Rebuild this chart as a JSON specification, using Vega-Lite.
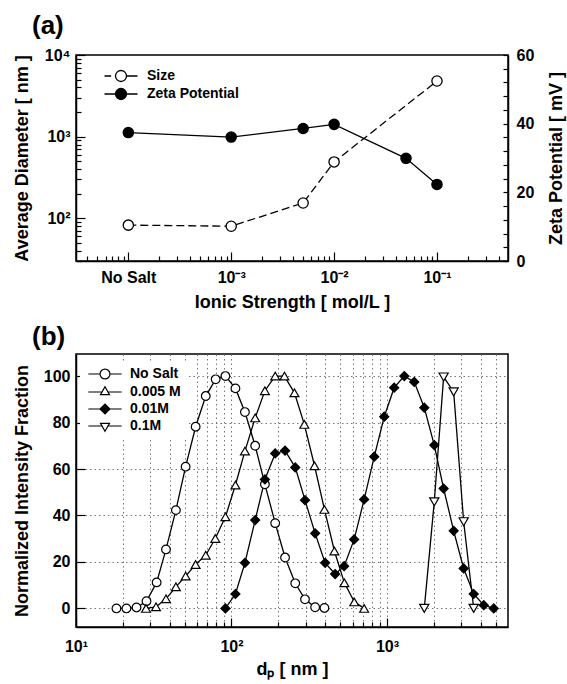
{
  "$schema": "https://vega.github.io/schema/vega-lite/v6.json",
  "padding": {"left": 12, "top": 12, "right": 0, "bottom": 2},
  "spacing": 11,
  "config": {
    "font": "Liberation Sans",
    "view": {"stroke": "black", "strokeWidth": 1.5},
    "axis": {
      "labelFont": "Liberation Sans", "labelFontWeight": "bold", "labelFontSize": 16, "labelColor": "black",
      "titleFont": "Liberation Sans", "titleFontWeight": "bold", "titleFontSize": 18, "titleColor": "black",
      "domainColor": "black", "domainWidth": 1.5, "tickColor": "black", "tickWidth": 1.2, "tickSize": -5,
      "labelPadding": 11, "labelOverlap": false, "labelFlush": false, "grid": false
    },
    "legend": {"labelFont": "Liberation Sans", "labelFontWeight": "bold", "labelFontSize": 14, "labelColor": "black"},
    "title": {"font": "Liberation Sans", "fontWeight": "bold", "fontSize": 26, "color": "black", "anchor": "start", "frame": "group"}
  },
  "datasets": {
    "panelA": [
      {"ionic": 0.0001, "size": 82.5, "zeta": 37.4},
      {"ionic": 0.001, "size": 80, "zeta": 36.1},
      {"ionic": 0.005, "size": 154, "zeta": 38.6},
      {"ionic": 0.01, "size": 490, "zeta": 39.8},
      {"ionic": 0.05, "size": null, "zeta": 29.9},
      {"ionic": 0.1, "size": 4800, "zeta": 22.3}
    ],
    "panelB": [
      {"series": "No Salt", "d": 18.2, "f": 0},
      {"series": "No Salt", "d": 21.1, "f": 0},
      {"series": "No Salt", "d": 24.5, "f": 0.4},
      {"series": "No Salt", "d": 28.4, "f": 3.1},
      {"series": "No Salt", "d": 33.0, "f": 11.2},
      {"series": "No Salt", "d": 37.9, "f": 25.4},
      {"series": "No Salt", "d": 43.9, "f": 42.3},
      {"series": "No Salt", "d": 50.7, "f": 61.0},
      {"series": "No Salt", "d": 58.8, "f": 78.2},
      {"series": "No Salt", "d": 68.3, "f": 91.4},
      {"series": "No Salt", "d": 79.1, "f": 98.6},
      {"series": "No Salt", "d": 91.4, "f": 100},
      {"series": "No Salt", "d": 106, "f": 94.7},
      {"series": "No Salt", "d": 122, "f": 84.5},
      {"series": "No Salt", "d": 142, "f": 70.0},
      {"series": "No Salt", "d": 164, "f": 53.4},
      {"series": "No Salt", "d": 191, "f": 36.7},
      {"series": "No Salt", "d": 221, "f": 21.9},
      {"series": "No Salt", "d": 257, "f": 10.8},
      {"series": "No Salt", "d": 297, "f": 3.9},
      {"series": "No Salt", "d": 345, "f": 0.5},
      {"series": "No Salt", "d": 396, "f": 0.2},
      {"series": "0.005 M", "d": 28.2, "f": 0},
      {"series": "0.005 M", "d": 32.7, "f": 0.7},
      {"series": "0.005 M", "d": 37.9, "f": 4.1},
      {"series": "0.005 M", "d": 43.9, "f": 9.3},
      {"series": "0.005 M", "d": 50.7, "f": 13.9},
      {"series": "0.005 M", "d": 58.8, "f": 18.9},
      {"series": "0.005 M", "d": 68.3, "f": 22.9},
      {"series": "0.005 M", "d": 78.7, "f": 30.1},
      {"series": "0.005 M", "d": 91.4, "f": 39.4},
      {"series": "0.005 M", "d": 106, "f": 53.1},
      {"series": "0.005 M", "d": 122, "f": 67.7},
      {"series": "0.005 M", "d": 142, "f": 82.0},
      {"series": "0.005 M", "d": 164, "f": 93.7},
      {"series": "0.005 M", "d": 191, "f": 100},
      {"series": "0.005 M", "d": 219, "f": 100},
      {"series": "0.005 M", "d": 254, "f": 92.8},
      {"series": "0.005 M", "d": 294, "f": 79.2},
      {"series": "0.005 M", "d": 342, "f": 61.4},
      {"series": "0.005 M", "d": 396, "f": 42.6},
      {"series": "0.005 M", "d": 459, "f": 24.7},
      {"series": "0.005 M", "d": 532, "f": 11.0},
      {"series": "0.005 M", "d": 616, "f": 2.8},
      {"series": "0.005 M", "d": 713, "f": 0},
      {"series": "0.01M", "d": 91.4, "f": 0},
      {"series": "0.01M", "d": 106, "f": 6.2},
      {"series": "0.01M", "d": 122, "f": 19.6},
      {"series": "0.01M", "d": 142, "f": 38.0},
      {"series": "0.01M", "d": 164, "f": 55.5},
      {"series": "0.01M", "d": 191, "f": 66.7},
      {"series": "0.01M", "d": 221, "f": 67.9},
      {"series": "0.01M", "d": 257, "f": 60.7},
      {"series": "0.01M", "d": 297, "f": 46.6},
      {"series": "0.01M", "d": 345, "f": 32.3},
      {"series": "0.01M", "d": 400, "f": 19.6},
      {"series": "0.01M", "d": 464, "f": 14.8},
      {"series": "0.01M", "d": 530, "f": 18.2},
      {"series": "0.01M", "d": 615, "f": 29.7},
      {"series": "0.01M", "d": 713, "f": 46.9},
      {"series": "0.01M", "d": 828, "f": 65.3},
      {"series": "0.01M", "d": 960, "f": 82.5},
      {"series": "0.01M", "d": 1112, "f": 95.0},
      {"series": "0.01M", "d": 1291, "f": 100},
      {"series": "0.01M", "d": 1497, "f": 97.5},
      {"series": "0.01M", "d": 1737, "f": 86.4},
      {"series": "0.01M", "d": 2014, "f": 70.3},
      {"series": "0.01M", "d": 2313, "f": 51.6},
      {"series": "0.01M", "d": 2684, "f": 33.4},
      {"series": "0.01M", "d": 3112, "f": 17.2},
      {"series": "0.01M", "d": 3611, "f": 6.2},
      {"series": "0.01M", "d": 4190, "f": 1.4},
      {"series": "0.01M", "d": 4858, "f": 0},
      {"series": "0.1M", "d": 1737, "f": 0},
      {"series": "0.1M", "d": 2014, "f": 45.9},
      {"series": "0.1M", "d": 2313, "f": 99.6},
      {"series": "0.1M", "d": 2684, "f": 93.2},
      {"series": "0.1M", "d": 3112, "f": 37.3},
      {"series": "0.1M", "d": 3611, "f": 0}
    ]
  },
  "vconcat": [
    {
      "width": 432,
      "height": 206,
      "title": {"text": "(a)", "dx": -44, "offset": 8},
      "data": {"name": "panelA"},
      "layer": [
        {
          "transform": [{"filter": "datum.size != null"}],
          "encoding": {
            "x": {"field": "ionic", "type": "quantitative",
              "scale": {"type": "log", "domain": [0.000031, 0.49], "nice": false},
              "axis": {"orient": "bottom", "title": "Ionic Strength [ mol/L ]",
                "values": [0.0001, 0.001, 0.01, 0.1], "tickSize": -9,
                "labelExpr": "datum.value == 0.0001 ? 'No Salt' : datum.value == 0.001 ? '10⁻³' : datum.value == 0.01 ? '10⁻²' : '10⁻¹'",
                "labelPadding": 17, "titlePadding": 8}}
          },
          "layer": [
            {
              "mark": {"type": "line", "stroke": "black", "strokeWidth": 1.3, "strokeDash": [8, 4]},
              "encoding": {
                "y": {"field": "size", "type": "quantitative",
                  "scale": {"type": "log", "domain": [30, 10000], "nice": false},
                  "axis": {"orient": "left", "title": "Average Diameter [ nm ]",
                    "values": [100, 1000, 10000], "tickSize": -9,
                    "labelExpr": "datum.value == 100 ? '10²' : datum.value == 1000 ? '10³' : '10⁴'",
                    "labelPadding": 15, "titlePadding": 13}}
              }
            },
            {
              "mark": {"type": "point", "shape": "circle", "filled": true, "fill": "white", "stroke": "black", "strokeWidth": 1.3, "size": 105, "opacity": 1},
              "encoding": {
                "y": {"field": "size", "type": "quantitative",
                  "scale": {"type": "log", "domain": [30, 10000], "nice": false},
                  "axis": {"orient": "left", "title": null, "labels": false, "domain": false, "tickSize": -5,
                    "values": [30, 40, 50, 60, 70, 80, 90, 200, 300, 400, 500, 600, 700, 800, 900, 2000, 3000, 4000, 5000, 6000, 7000, 8000, 9000]}}
              }
            }
          ],
          "resolve": {"axis": {"y": "independent"}}
        },
        {
          "encoding": {
            "x": {"field": "ionic", "type": "quantitative",
              "scale": {"type": "log", "domain": [0.000031, 0.49], "nice": false},
              "axis": {"orient": "bottom", "title": null, "labels": false, "domain": false, "tickSize": -5,
                "values": [0.00004, 0.00005, 0.00006, 0.00007, 0.00008, 0.00009, 0.0002, 0.0003, 0.0004, 0.0005, 0.0006, 0.0007, 0.0008, 0.0009, 0.002, 0.003, 0.004, 0.005, 0.006, 0.007, 0.008, 0.009, 0.02, 0.03, 0.04, 0.05, 0.06, 0.07, 0.08, 0.09, 0.2, 0.3, 0.4]}},
            "y": {"field": "zeta", "type": "quantitative",
              "scale": {"domain": [0, 60], "nice": false, "zero": false},
              "axis": {"orient": "right", "title": "Zeta Potential [ mV ]", "titleAngle": 270, "titleBaseline": "top",
                "values": [0, 4, 8, 12, 16, 20, 24, 28, 32, 36, 40, 44, 48, 52, 56, 60],
                "labelExpr": "datum.value % 20 == 0 ? datum.label : ''",
                "labelPadding": 13, "titlePadding": 14}}
          },
          "layer": [
            {"mark": {"type": "line", "stroke": "black", "strokeWidth": 1.3}},
            {"mark": {"type": "point", "shape": "circle", "filled": true, "fill": "black", "stroke": "black", "strokeWidth": 1.3, "size": 105, "opacity": 1}}
          ]
        },
        {
          "transform": [{"filter": "false"}],
          "mark": {"type": "point", "filled": true, "stroke": "black", "strokeWidth": 1.3, "opacity": 1},
          "encoding": {
            "shape": {"field": "series", "type": "nominal",
              "scale": {"domain": ["Size", "Zeta Potential"], "range": ["M-3,0H-1.8M1,0H3M1,0A1,1 0 1,1 -1,0A1,1 0 1,1 1,0Z", "M-3,0H-1M1,0H3M1,0A1,1 0 1,1 -1,0A1,1 0 1,1 1,0Z"]},
              "legend": {"title": null, "orient": "none", "legendX": 4, "legendY": 4, "padding": 10, "symbolSize": 121, "symbolOffset": 24, "labelOffset": 19, "rowPadding": 0, "symbolStrokeColor": "black", "symbolStrokeWidth": 1.3}},
            "fill": {"field": "series", "type": "nominal",
              "scale": {"domain": ["Size", "Zeta Potential"], "range": ["white", "black"]},
              "legend": {"title": null, "orient": "none", "legendX": 4, "legendY": 4, "padding": 10, "symbolSize": 121, "symbolOffset": 24, "labelOffset": 19, "rowPadding": 0, "symbolStrokeColor": "black", "symbolStrokeWidth": 1.3}},
            "stroke": {"field": "series", "type": "nominal",
              "scale": {"domain": ["Size", "Zeta Potential"], "range": ["black", "black"]},
              "legend": {"title": null, "orient": "none", "legendX": 4, "legendY": 4, "padding": 10, "symbolSize": 121, "symbolOffset": 24, "labelOffset": 19, "rowPadding": 0, "symbolStrokeColor": "black", "symbolStrokeWidth": 1.3}}
          }
        }
      ],
      "resolve": {"scale": {"y": "independent"}, "axis": {"x": "independent"}}
    },
    {
      "width": 432,
      "height": 273,
      "title": {"text": "(b)", "dx": -44, "offset": 4},
      "data": {"name": "panelB"},
      "encoding": {
        "y": {"field": "f", "type": "quantitative",
          "scale": {"domain": [-8, 109.5], "nice": false, "zero": false},
          "axis": {"orient": "left", "title": "Normalized Intensity Fraction", "grid": true, "gridColor": "#777", "gridDash": [1.5, 3], "gridWidth": 1,
            "values": [0, 20, 40, 60, 80, 100], "tickSize": -9, "labelPadding": 15, "titlePadding": 12}}
      },
      "layer": [
        {
          "mark": {"type": "line", "stroke": "black", "strokeWidth": 1.3},
          "encoding": {
            "x": {"field": "d", "type": "quantitative",
              "scale": {"type": "log", "domain": [10, 6000], "nice": false},
              "axis": {"orient": "bottom", "title": "dₚ [ nm ]", "grid": true, "gridColor": "#777", "gridDash": [1.5, 3], "gridWidth": 1,
                "values": [10, 100, 1000], "tickSize": -9,
                "labelExpr": "datum.value == 10 ? '10¹' : datum.value == 100 ? '10²' : '10³'",
                "labelPadding": 20, "titlePadding": 6}},
            "detail": {"field": "series", "type": "nominal"}
          }
        },
        {
          "mark": {"type": "point", "filled": true, "stroke": "black", "strokeWidth": 1.2, "opacity": 1},
          "encoding": {
            "x": {"field": "d", "type": "quantitative",
              "scale": {"type": "log", "domain": [10, 6000], "nice": false},
              "axis": {"orient": "bottom", "title": null, "labels": false, "domain": false, "tickSize": -5,
                "grid": true, "gridColor": "#777", "gridDash": [1.5, 3], "gridWidth": 1,
                "values": [20, 30, 40, 50, 60, 70, 80, 90, 200, 300, 400, 500, 600, 700, 800, 900, 2000, 3000, 4000, 5000]}},
            "shape": {"field": "series", "type": "nominal",
              "scale": {"domain": ["No Salt", "0.005 M", "0.01M", "0.1M"], "range": ["circle", "triangle-up", "diamond", "triangle-down"]},
              "legend": null},
            "fill": {"field": "series", "type": "nominal",
              "scale": {"domain": ["No Salt", "0.005 M", "0.01M", "0.1M"], "range": ["white", "white", "black", "white"]},
              "legend": null},
            "size": {"field": "series", "type": "nominal",
              "scale": {"domain": ["No Salt", "0.005 M", "0.01M", "0.1M"], "range": [75, 85, 100, 85]},
              "legend": null}
          }
        },
        {
          "transform": [{"filter": "false"}],
          "mark": {"type": "point", "filled": true, "stroke": "black", "strokeWidth": 1.2, "opacity": 1},
          "encoding": {
            "shape": {"field": "series", "type": "nominal",
              "scale": {"domain": ["No Salt", "0.005 M", "0.01M", "0.1M"],
                "range": ["M-3.7,0H-1.1M1.1,0H3.7M1.1,0A1.1,1.1 0 1,1 -1.1,0A1.1,1.1 0 1,1 1.1,0Z", "M-3.7,0H-0.667M0.667,0H3.7M0,-1.155L1,0.577L-1,0.577Z", "M-3.7,0H3.7M-1.1,0L0,-1.1L1.1,0L0,1.1Z", "M-3.7,0H-0.667M0.667,0H3.7M0,1.155L1,-0.577L-1,-0.577Z"]},
              "legend": {"title": null, "orient": "none", "legendX": 4, "legendY": 7, "padding": 6, "fillColor": "white", "symbolSize": 81, "symbolOffset": 12, "labelOffset": 18, "rowPadding": 2, "symbolStrokeColor": "black", "symbolStrokeWidth": 1.2}},
            "fill": {"field": "series", "type": "nominal",
              "scale": {"domain": ["No Salt", "0.005 M", "0.01M", "0.1M"], "range": ["white", "white", "black", "white"]},
              "legend": {"title": null, "orient": "none", "legendX": 4, "legendY": 7, "padding": 6, "fillColor": "white", "symbolSize": 81, "symbolOffset": 12, "labelOffset": 18, "rowPadding": 2, "symbolStrokeColor": "black", "symbolStrokeWidth": 1.2}},
            "stroke": {"field": "series", "type": "nominal",
              "scale": {"domain": ["No Salt", "0.005 M", "0.01M", "0.1M"], "range": ["black", "black", "black", "black"]},
              "legend": {"title": null, "orient": "none", "legendX": 4, "legendY": 7, "padding": 6, "fillColor": "white", "symbolSize": 81, "symbolOffset": 12, "labelOffset": 18, "rowPadding": 2, "symbolStrokeColor": "black", "symbolStrokeWidth": 1.2}}
          }
        }
      ],
      "resolve": {"axis": {"x": "independent"}, "scale": {"shape": "independent", "fill": "independent", "size": "independent", "stroke": "independent"}}
    }
  ]
}
